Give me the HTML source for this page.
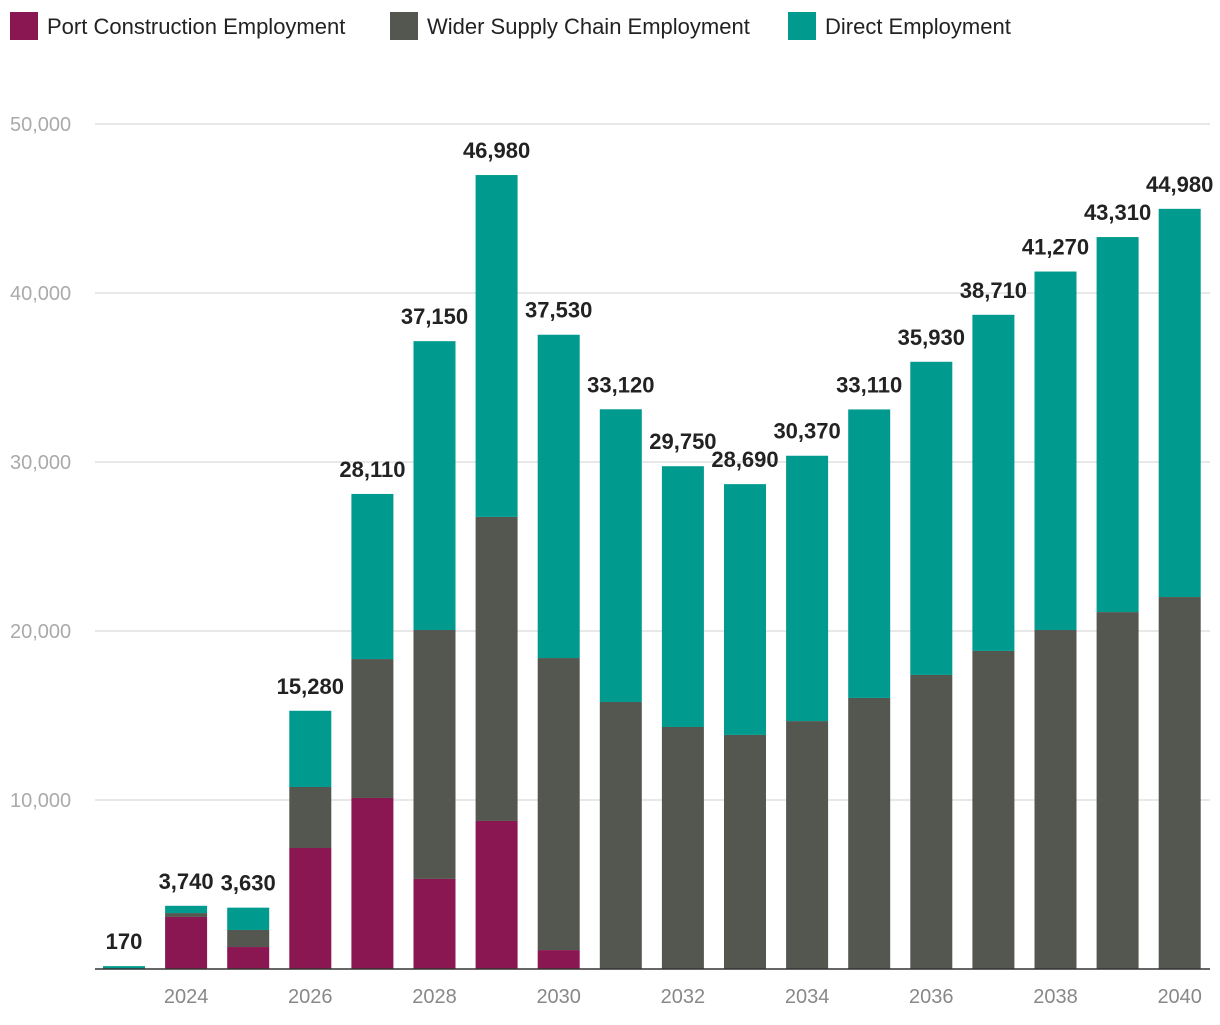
<!DOCTYPE html>
<html><head><meta charset="utf-8"><style>
body{margin:0;background:#fff;font-family:"Liberation Sans",Roboto,sans-serif}
svg text{font-family:"Liberation Sans",sans-serif}
</style></head><body>
<svg id="chart" width="1220" height="1020" xmlns="http://www.w3.org/2000/svg"></svg>
<script>
const years=[2023,2024,2025,2026,2027,2028,2029,2030,2031,2032,2033,2034,2035,2036,2037,2038,2039,2040];
const portValues=[0,3080,1300,7160,10120,5330,8760,1120,0,0,0,0,0,0,0,0,0,0];
const supplyValues=[0,230,1010,3610,8220,14730,17990,17280,15800,14320,13850,14670,16040,17400,18820,20060,21120,22010];
const directValues=[170,430,1320,4510,9770,17090,20230,19130,17320,15430,14840,15700,17070,18530,19890,21210,22190,22970];
const yTicks=[10000,20000,30000,40000,50000];
const seriesNames=["Port Construction Employment","Wider Supply Chain Employment","Direct Employment"];
const colors=["#8b1752","#545750","#009a8e"];

const svg=document.getElementById('chart');
const NS="http://www.w3.org/2000/svg";
const y0=969,pxPer=845/50000,x0=124,step=62.1,bw=42;
const yS=v=>y0-v*pxPer, xS=i=>x0+i*step;
function mk(t,a,txt){const e=document.createElementNS(NS,t);for(const k in a)e.setAttribute(k,a[k]);if(txt!==undefined)e.textContent=txt;svg.appendChild(e);return e;}

let lx=10;const lw=[380,398];
seriesNames.forEach((n,i)=>{
 const r=mk('rect',{x:lx,y:12,width:28,height:28,fill:colors[i]});
 
 
 const t=mk('text',{x:lx+37,y:34,'font-size':22,fill:'#222'},n);
 
 
 lx+=lw[i]||0;
});

yTicks.forEach(v=>{
 const g=mk('line',{x1:95,x2:1210,y1:yS(v),y2:yS(v),stroke:'#e0e0e0','stroke-width':1.5});
 
 
 const t=mk('text',{x:10,y:yS(v)+7,'font-size':20,fill:'#aaa'},v.toLocaleString('en-US'));
 
 
});

years.forEach((yr,i)=>{
 const vals=[portValues[i],supplyValues[i],directValues[i]];
 let base=0;
 vals.forEach((v,s)=>{
  if(v<=0)return;
  const r=mk('rect',{x:xS(i)-bw/2,y:yS(base+v),width:bw,height:v*pxPer,fill:colors[s]});
  
  
  base+=v;
 });
 const t=mk('text',{x:xS(i),y:yS(base)-17,'font-size':22,'font-weight':'bold','text-anchor':'middle',fill:'#222'},base.toLocaleString('en-US'));
 
 
 if(yr%2===0){
  const xl=mk('text',{x:xS(i),y:1003,'font-size':20,'text-anchor':'middle',fill:'#888'},String(yr));
  
  
 }
});
const ax=mk('line',{x1:95,x2:1210,y1:y0,y2:y0,stroke:'#333','stroke-width':1.5});


</script>
</body></html>
